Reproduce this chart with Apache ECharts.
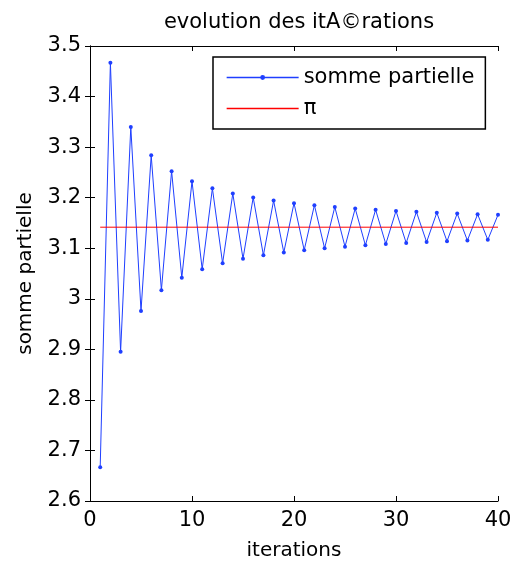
<!DOCTYPE html>
<html>
<head>
<meta charset="utf-8">
<script src="https://cdn.jsdelivr.net/npm/echarts@6/dist/echarts.min.js"></script>
<style>html,body{margin:0;padding:0;background:#fff}#c{width:514px;height:561px}</style>
</head>
<body>
<div id="c"></div>
<script>
var iterations = [1,2,3,4,5,6,7,8,9,10,11,12,13,14,15,16,17,18,19,20,21,22,23,24,25,26,27,28,29,30,31,32,33,34,35,36,37,38,39,40];
var sommePartielle = [2.6667,3.4667,2.8952,3.3397,2.9760,3.2837,3.0171,3.2524,3.0418,3.2323,3.0584,3.2184,3.0703,3.2082,3.0792,3.2004,3.0861,3.1942,3.0916,3.1892,3.0962,3.1851,3.0999,3.1816,3.1031,3.1786,3.1059,3.1761,3.1083,3.1738,3.1104,3.1719,3.1122,3.1702,3.1138,3.1686,3.1153,3.1672,3.1166,3.1660];
var piX = [1, 40];
var piY = [3.14159, 3.14159];
var xTicks = [0, 10, 20, 30, 40];
var yTicks = [2.6, 2.7, 2.8, 2.9, 3, 3.1, 3.2, 3.3, 3.4, 3.5];

var FONT = 'DejaVu Sans';
var chart = echarts.init(document.getElementById('c'), null, {renderer: 'canvas'});
var axisLine = {show: true, lineStyle: {color: '#000', width: 1}};
var tick = {show: true, inside: true, length: 5, lineStyle: {color: '#000', width: 1}};
chart.setOption({
  animation: false,
  backgroundColor: '#fff',
  textStyle: {fontFamily: FONT},
  title: {
    text: 'evolution des itA©rations',
    left: 294, textAlign: 'center', top: 7,
    textStyle: {fontFamily: FONT, fontSize: 21, fontWeight: 'normal', color: '#000'}
  },
  grid: {left: 90, right: 16, top: 46, bottom: 60, containLabel: false, outerBoundsMode: 'none'},
  legend: {
    orient: 'vertical',
    left: 213, top: 57,
    padding: [10, 11, 10, 13],
    itemGap: 10,
    itemWidth: 72, itemHeight: 6,
    borderColor: '#000', borderWidth: 1.5,
    backgroundColor: '#fff',
    lineStyle: {width: 1.3},
    textStyle: {fontFamily: FONT, fontSize: 21, color: '#000'},
    data: [
      {name: 'somme partielle'},
      {name: 'π', itemStyle: {color: 'rgba(0,0,0,0)', borderWidth: 0}}
    ]
  },
  xAxis: [{
    type: 'value', min: xTicks[0], max: xTicks[xTicks.length - 1], interval: 10,
    position: 'bottom',
    name: 'iterations', nameLocation: 'middle', nameGap: 40,
    nameTextStyle: {fontFamily: FONT, fontSize: 20, color: '#000'},
    axisLine: axisLine, axisTick: tick, splitLine: {show: false},
    axisLabel: {fontFamily: FONT, fontSize: 21, color: '#000', margin: 9}
  }, {
    type: 'value', min: 0, max: 40, interval: 10, position: 'top',
    axisLine: axisLine, axisTick: tick, splitLine: {show: false},
    axisLabel: {show: false}
  }],
  yAxis: [{
    type: 'value', min: yTicks[0], max: yTicks[yTicks.length - 1], interval: 0.1,
    position: 'left',
    name: 'somme partielle', nameLocation: 'middle', nameGap: 54,
    nameTextStyle: {fontFamily: FONT, fontSize: 20, color: '#000'},
    axisLine: axisLine, axisTick: tick, splitLine: {show: false},
    axisLabel: {fontFamily: FONT, fontSize: 21, color: '#000', margin: 9,
      formatter: function (v) { return String(Math.round(v * 10) / 10); }}
  }, {
    type: 'value', min: 2.6, max: 3.5, interval: 0.1, position: 'right',
    axisLine: axisLine, axisTick: tick, splitLine: {show: false},
    axisLabel: {show: false}
  }],
  series: [{
    name: 'somme partielle', type: 'line',
    data: iterations.map(function (x, i) { return [x, sommePartielle[i]]; }),
    symbol: 'circle', symbolSize: 4, showSymbol: true,
    lineStyle: {color: '#1f3fff', width: 1},
    itemStyle: {color: '#1f3fff'}
  }, {
    name: 'π', type: 'line',
    data: piX.map(function (x, i) { return [x, piY[i]]; }),
    symbol: 'none',
    lineStyle: {color: '#ff0000', width: 1},
    itemStyle: {color: '#ff0000'}
  }]
});
</script>
</body>
</html>
